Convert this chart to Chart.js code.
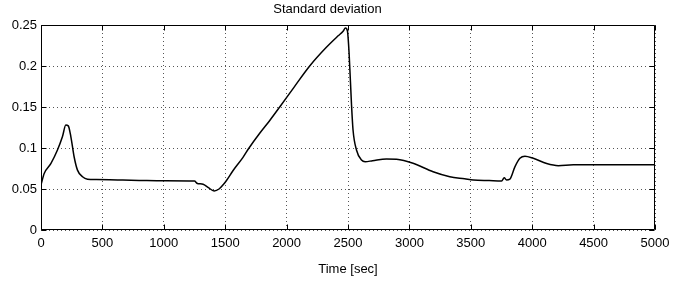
<!DOCTYPE html>
<html>
<head>
<meta charset="utf-8">
<script src="https://cdn.jsdelivr.net/npm/chart.js@4"></script>
<style>
  html, body { margin: 0; padding: 0; background: #fff; }
  #wrap { width: 684px; height: 283px; position: relative; }
</style>
</head>
<body>
<div id="wrap"><canvas id="c"></canvas></div>
<script>
const times = [0, 26, 80, 134, 175, 202, 222, 243, 270, 297, 338, 379, 450, 623, 800, 1000, 1250, 1270, 1280, 1320, 1360, 1410, 1450, 1485, 1509, 1563, 1645, 1694, 1781, 1860, 1944, 2060, 2188, 2324, 2420, 2460, 2479, 2495, 2509, 2528, 2541, 2569, 2610, 2640, 2700, 2813, 2895, 3030, 3193, 3329, 3450, 3520, 3650, 3751, 3772, 3791, 3818, 3859, 3900, 3941, 4009, 4118, 4213, 4335, 4498, 5000];
const stdValues = [0.055, 0.069, 0.081, 0.0976, 0.114, 0.128, 0.127, 0.114, 0.089, 0.073, 0.065, 0.062, 0.0615, 0.061, 0.0605, 0.060, 0.0597, 0.057, 0.0565, 0.0558, 0.052, 0.0477, 0.050, 0.0555, 0.0601, 0.0723, 0.0886, 0.100, 0.118, 0.133, 0.150, 0.174, 0.200, 0.2228, 0.2368, 0.2423, 0.2463, 0.243, 0.2155, 0.1545, 0.122, 0.0976, 0.0854, 0.0833, 0.0845, 0.0866, 0.0862, 0.0813, 0.0711, 0.065, 0.0625, 0.061, 0.0603, 0.0598, 0.0638, 0.061, 0.062, 0.077, 0.0874, 0.090, 0.0874, 0.081, 0.0785, 0.0797, 0.0797, 0.0797];
const xTicks = [0, 500, 1000, 1500, 2000, 2500, 3000, 3500, 4000, 4500, 5000];
const yTicks = [0, 0.05, 0.1, 0.15, 0.2, 0.25];
const yTickLabels = ['0', '0.05', '0.1', '0.15', '0.2', '0.25'];
const titleText = 'Standard deviation';
const xTitle = 'Time [sec]';

const points = times.map((t, i) => ({ x: t, y: stdValues[i] }));
const FONT = 'Liberation Sans, Arial, Helvetica, sans-serif';

const boxPlugin = {
  id: 'boxTicks',
  afterDraw(chart) {
    const ctx = chart.ctx;
    const a = chart.chartArea;
    const xs = chart.scales.x, ys = chart.scales.y;
    ctx.save();
    ctx.strokeStyle = '#000';
    ctx.lineWidth = 1;
    ctx.beginPath();
    const L = Math.round(a.left) + 0.5, R = Math.round(a.right) - 0.5;
    const T = Math.round(a.top) + 0.5, B = Math.round(a.bottom) - 0.5;
    ctx.rect(L, T, R - L, B - T);
    xTicks.forEach(v => {
      const px = Math.round(xs.getPixelForValue(v)) + 0.5;
      ctx.moveTo(px, B); ctx.lineTo(px, B - 5);
      ctx.moveTo(px, T); ctx.lineTo(px, T + 5);
    });
    yTicks.forEach(v => {
      const py = Math.round(ys.getPixelForValue(v)) + 0.5;
      ctx.moveTo(L, py); ctx.lineTo(L + 5, py);
      ctx.moveTo(R, py); ctx.lineTo(R - 5, py);
    });
    ctx.stroke();
    ctx.restore();
  }
};

new Chart(document.getElementById('c'), {
  type: 'scatter',
  data: {
    datasets: [{
      data: points,
      showLine: true,
      borderColor: '#000',
      borderWidth: 1.5,
      pointRadius: 0,
      cubicInterpolationMode: 'monotone',
      fill: false
    }]
  },
  options: {
    responsive: true,
    maintainAspectRatio: false,
    animation: false,
    devicePixelRatio: 1,
    layout: { padding: { left: 0, right: 29, top: 0, bottom: 0 } },
    plugins: {
      legend: { display: false },
      tooltip: { enabled: false },
      title: {
        display: true,
        text: titleText,
        color: '#000',
        font: { family: FONT, size: 13, weight: 'normal' },
        padding: { top: 2, bottom: 7.4 }
      }
    },
    scales: {
      x: {
        type: 'linear',
        min: 0, max: 5000,
        afterBuildTicks(scale) { scale.ticks = xTicks.map(v => ({ value: v })); },
        afterFit(scale) { scale.height = 53; },
        grid: {
          color: '#555',
          lineWidth: 1,
          drawTicks: false
        },
        border: { display: false, dash: [1, 3] },
        ticks: {
          color: '#000',
          padding: 6,
          maxRotation: 0,
          font: { family: FONT, size: 13 },
          callback: v => String(v)
        },
        title: {
          display: true,
          text: xTitle,
          color: '#000',
          font: { family: FONT, size: 13 },
          padding: { top: 0, bottom: 6 }
        }
      },
      y: {
        type: 'linear',
        min: 0, max: 0.25,
        afterBuildTicks(scale) { scale.ticks = yTicks.map(v => ({ value: v })); },
        afterFit(scale) { scale.width = 41; },
        grid: {
          color: '#555',
          lineWidth: 1,
          drawTicks: false
        },
        border: { display: false, dash: [1, 3] },
        ticks: {
          color: '#000',
          padding: 4,
          font: { family: FONT, size: 13 },
          callback: (v) => { const i = yTicks.findIndex(t => Math.abs(t - v) < 1e-9); return i >= 0 ? yTickLabels[i] : ''; }
        }
      }
    }
  },
  plugins: [boxPlugin]
});
</script>
</body>
</html>
